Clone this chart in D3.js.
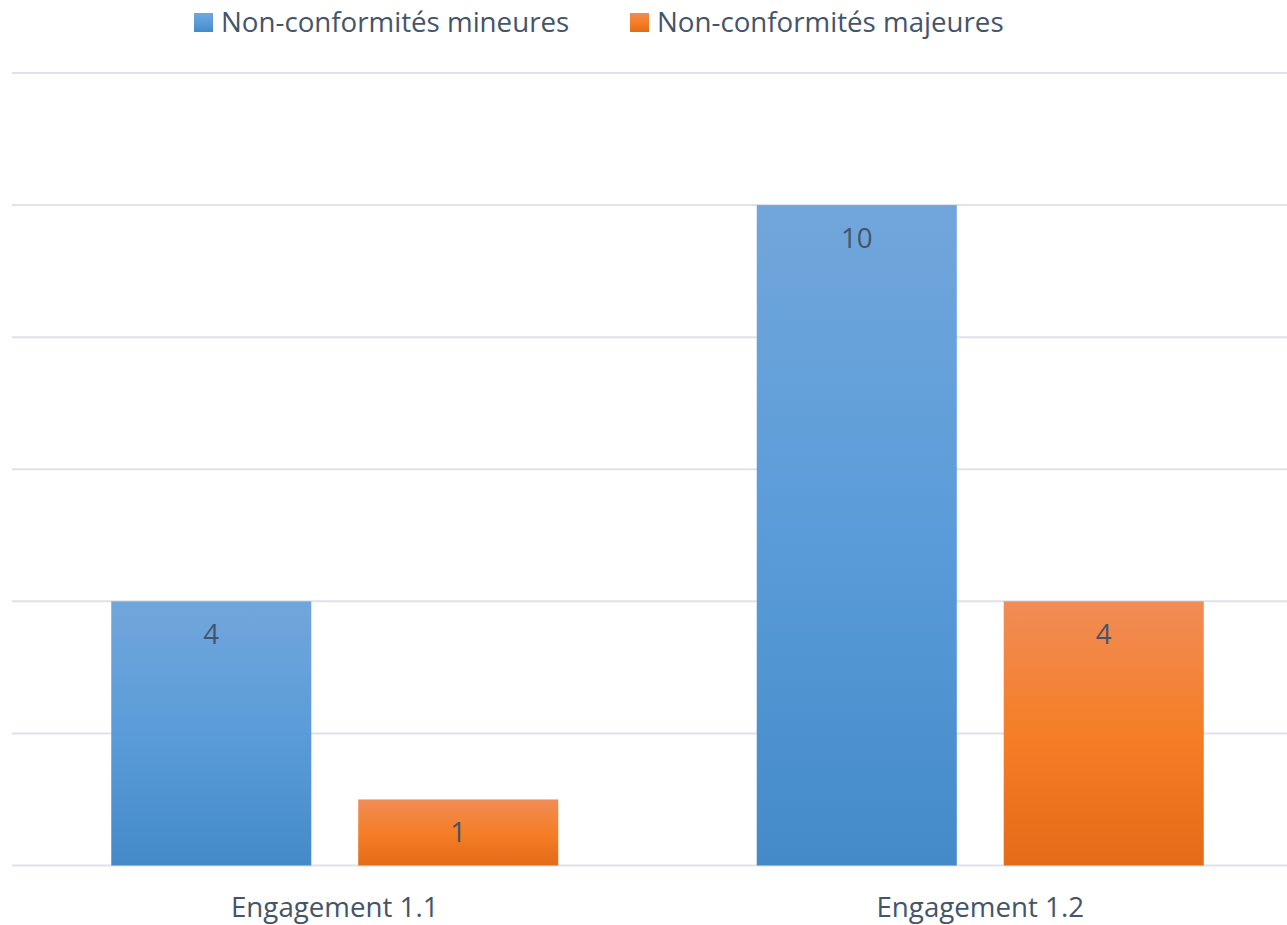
<!DOCTYPE html>
<html><head><meta charset="utf-8">
<script src="https://cdn.jsdelivr.net/npm/d3@7"></script>
<style>html,body{margin:0;padding:0;background:#fff;}</style>
</head><body>
<svg id="chart" width="1287" height="925"></svg>
<script>
const categories = ["Engagement 1.1", "Engagement 1.2"];
const seriesNames = ["Non-conformités mineures", "Non-conformités majeures"];
const mineures = [4, 10];
const majeures = [1, 4];
const yTicks = [0, 2, 4, 6, 8, 10, 12];

const W = 1287, H = 925;
const font = "'Open Sans', sans-serif";
const fontSize = 27.7;
const textColor = "#44546a";
const svg = d3.select("#chart");
const defs = svg.append("defs");

const gradients = [
  {id: "gBlue", stops: ["#71a6db", "#5a9cd9", "#448ac9"]},
  {id: "gOrange", stops: ["#f18c56", "#f57e27", "#e46b17"]}
];
gradients.forEach(g => {
  const lg = defs.append("linearGradient").attr("id", g.id)
    .attr("x1", 0).attr("y1", 0).attr("x2", 0).attr("y2", 1);
  g.stops.forEach((c, i) => lg.append("stop").attr("offset", (i * 50) + "%").attr("stop-color", c));
});

const y = d3.scaleLinear().domain([0, 12]).range([865.5, 73]);
const x0 = d3.scaleBand().domain(categories).range([12, 1303]).paddingInner(0.3075).paddingOuter(0.15375);
const x1 = d3.scaleBand().domain(seriesNames).range([0, x0.bandwidth()]).paddingInner(0.19);

// gridlines
svg.append("g").selectAll("line").data(yTicks).join("line")
  .attr("x1", 12).attr("x2", W)
  .attr("y1", d => y(d)).attr("y2", d => y(d))
  .attr("stroke", "#dfe2e8").attr("stroke-width", 2);

const data = categories.map((c, i) => ({cat: c, vals: [
  {s: seriesNames[0], v: mineures[i], g: "gBlue"},
  {s: seriesNames[1], v: majeures[i], g: "gOrange"}
]}));

const groups = svg.append("g").selectAll("g").data(data).join("g")
  .attr("transform", d => `translate(${x0(d.cat)},0)`);

groups.selectAll("rect").data(d => d.vals).join("rect")
  .attr("x", d => x1(d.s)).attr("width", x1.bandwidth())
  .attr("y", d => y(d.v)).attr("height", d => y(0) - y(d.v))
  .attr("fill", d => `url(#${d.g})`);

groups.selectAll("text").data(d => d.vals).join("text")
  .attr("x", d => x1(d.s) + x1.bandwidth() / 2)
  .attr("y", d => y(d.v) + 43)
  .attr("text-anchor", "middle")
  .attr("font-family", font).attr("font-size", fontSize)
  .attr("fill", textColor)
  .text(d => d.v);

// category labels
svg.append("g").selectAll("text").data(categories).join("text")
  .attr("x", d => x0(d) + x0.bandwidth() / 2)
  .attr("y", 917)
  .attr("text-anchor", "middle")
  .attr("font-family", font).attr("font-size", fontSize)
  .attr("fill", textColor)
  .text(d => d);

// legend
const legendX = [194, 630];
const legend = svg.append("g").selectAll("g").data(seriesNames).join("g")
  .attr("transform", (d, i) => `translate(${legendX[i]},0)`);
legend.append("rect").attr("x", 0).attr("y", 13).attr("width", 19).attr("height", 19)
  .attr("fill", (d, i) => `url(#${gradients[i].id})`);
legend.append("text").attr("x", 27).attr("y", 32)
  .attr("font-family", font).attr("font-size", fontSize)
  .attr("fill", textColor)
  .text(d => d);
</script>
</body></html>
